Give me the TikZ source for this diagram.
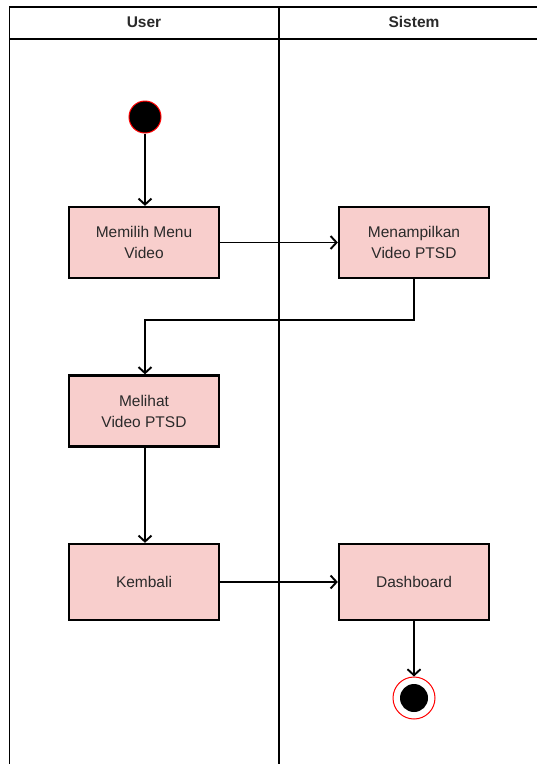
\documentclass[tikz,border=0pt]{standalone}
\usepackage{fontspec}
\setmainfont{Liberation Sans}
\usetikzlibrary{arrows.meta}
\definecolor{boxfill}{HTML}{F8CECC}
\definecolor{txt}{HTML}{2A2A2A}
\begin{document}
\begin{tikzpicture}[x=1pt,y=-1pt,
  act/.style={draw=black,line width=2.3pt,fill=boxfill,minimum width=150pt,minimum height=71pt,inner sep=0pt,align=center,text=txt,font=\fontsize{15.5}{21}\selectfont},
  flow/.style={draw=black,line width=1.9pt,-{Straight Barb[length=6pt,width=13pt,line width=1.9pt]}},
  lane/.style={draw=black,line width=1.3pt},
  hdr/.style={font=\bfseries\fontsize{15.5}{18}\selectfont,text=txt}]
\useasboundingbox (0,0) rectangle (537,764);
% swimlanes
\draw[lane] (9.5,764) -- (9.5,7) -- (537,7);
\draw[lane] (9.5,39) -- (537,39);
\draw[lane] (279,7) -- (279,764);
\node[hdr] (hu) at (144,22) {User};
\node[hdr] (hs) at (414,22) {Sistem};
% nodes
\node[circle,fill=black,draw=red,line width=1pt,minimum size=32pt,inner sep=0pt] (start) at (145,117) {};
\node[act] (a1) at (144,242.5) {Memilih Menu\\Video};
\node[act] (a2) at (414,242.5) {Menampilkan\\Video PTSD};
\node[act] (a3) at (144,411) {Melihat\\Video PTSD};
\node[act,minimum height=76pt] (a4) at (144,582) {Kembali};
\node[act,minimum height=76pt] (a5) at (414,582) {Dashboard};
\node[circle,draw=red,line width=1pt,fill=white,minimum size=42pt,inner sep=0pt] (end) at (414,698) {};
\node[circle,fill=black,minimum size=28pt,inner sep=0pt] (endin) at (end.center) {};
\coordinate (c1) at (414,320);
\coordinate (c2) at (145,320);
% connectors
\draw[flow] (start) -- (start.center |- a1.north);
\draw[flow] (a1) -- (a2);
\draw[flow] (a2.south) -- (c1) -- (c2) -- (c2 |- a3.north);
\draw[flow] (a3.south -| c2) -- (c2 |- a4.north);
\draw[flow] (a4) -- (a5);
\draw[flow] (a5) -- (end);
\end{tikzpicture}
\end{document}
